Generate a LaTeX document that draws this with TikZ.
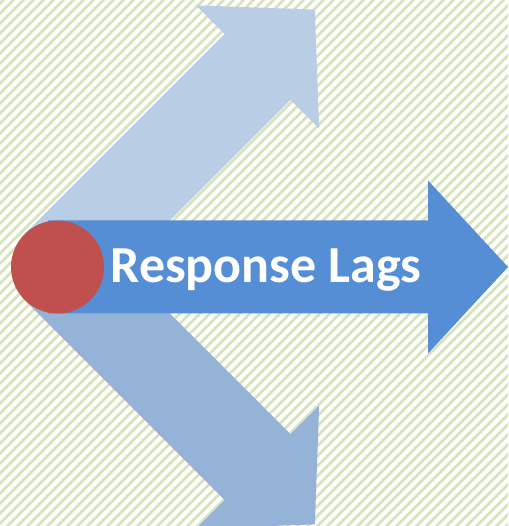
\documentclass[tikz,border=0pt]{standalone}
\usepackage{fontspec}
\setmainfont{Carlito}
\usetikzlibrary{patterns.meta}
\definecolor{stripegreen}{HTML}{D7E4BD}
\definecolor{paleblue}{HTML}{B9CDE5}
\definecolor{midblue}{HTML}{95B3D7}
\definecolor{mainblue}{HTML}{558ED5}
\definecolor{hubred}{HTML}{C0504D}
\begin{document}
\begin{tikzpicture}[x=0.02cm, y=0.02cm,
        hub/.style={circle, fill=hubred, minimum size=1.86cm, inner sep=0pt},
        title/.style={text=white, font=\bfseries\fontsize{29.6}{35}\selectfont, anchor=base, inner sep=0pt}]
    \useasboundingbox (0,0) rectangle (508,526);
    \fill[white] (0,0) rectangle (508,526);
    \fill[pattern={Lines[angle=45, distance=4pt, line width=1.7pt]}, pattern color=stripegreen] (0,0) rectangle (508,526);
    % side arrows, from the hub centre
    \begin{scope}[shift={(57.5,259)}, rotate=45]
        \fill[paleblue] (0,-46.5) -- (283,-46.5) -- (283,-87) -- (364,0) -- (283,87) -- (283,46.5) -- (0,46.5) -- cycle;
    \end{scope}
    \begin{scope}[shift={(57.5,259)}, rotate=-45]
        \fill[midblue] (0,-46.5) -- (283,-46.5) -- (283,-87) -- (364,0) -- (283,87) -- (283,46.5) -- (0,46.5) -- cycle;
    \end{scope}
    % main arrow
    \begin{scope}[shift={(57.5,259)}]
        \fill[mainblue] (-9.5,-46.5) -- (370.5,-46.5) -- (370.5,-86.5) -- (450.5,0) -- (370.5,86.5) -- (370.5,46.5) -- (-9.5,46.5) -- cycle;
    \end{scope}
    \node[hub] (h) at (57.5,259) {};
    \node[title] (lags) at (266,243) {Response Lags};
\end{tikzpicture}
\end{document}
